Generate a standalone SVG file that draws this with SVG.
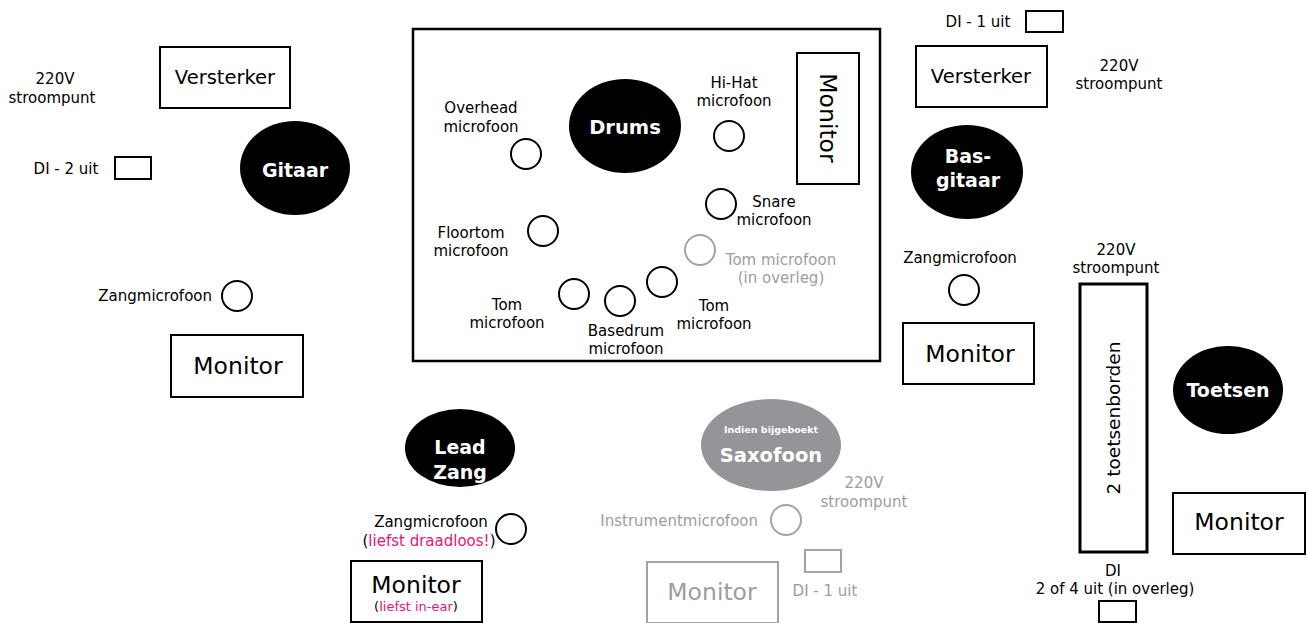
<svg xmlns="http://www.w3.org/2000/svg" width="1308" height="623" viewBox="0 0 1308 623">
<style>
text{font-family:"DejaVu Sans","Verdana",sans-serif;fill:#000}
.s{font-size:15px;text-anchor:middle}
.e{font-size:15px;text-anchor:end}
.big{font-size:23.5px;text-anchor:middle}
.amp{font-size:19.5px;text-anchor:middle}
.b{font-size:19px;font-weight:bold;fill:#fff;text-anchor:middle}
.box{fill:#fff;stroke:#000;stroke-width:2}
.mic{fill:#fff;stroke:#000;stroke-width:2}
.gmic{fill:#fff;stroke:#a3a3a3;stroke-width:2}
.gbox{fill:#fff;stroke:#a3a3a3;stroke-width:2}
.g{fill:#9d9d9d}
.p{fill:#e5157c}
.player{fill:#000}
</style>
<g id="connectors"></g>

<g id="drumkit">
<rect x="413" y="29" width="467" height="332" fill="#fff" stroke="#000" stroke-width="2.5"/>
</g>

<g id="left-power"><text class="s" x="55" y="84">220V</text><text class="s" x="52" y="103">stroompunt</text></g>
<g id="left-amp"><rect class="box" x="160" y="47" width="130" height="61"/><text class="amp" x="225" y="84">Versterker</text></g>
<g id="gitaar"><ellipse class="player" cx="295" cy="168" rx="55" ry="47"/><text class="b" x="295" y="177">Gitaar</text></g>
<g id="left-di"><text class="s" x="66" y="174">DI - 2 uit</text><rect class="box" x="115" y="157" width="36" height="22"/></g>
<g id="left-zangmic"><text class="e" x="212" y="301">Zangmicrofoon</text><circle class="mic" cx="237" cy="296" r="15"/></g>
<g id="left-monitor"><rect class="box" x="171" y="335" width="132" height="62"/><text class="big" x="238" y="374">Monitor</text></g>

<g id="drums"><ellipse class="player" cx="625" cy="126" rx="56" ry="47"/><text class="b" x="625" y="134" style="font-size:19.5px">Drums</text></g>
<g id="drum-monitor"><rect class="box" x="797" y="53" width="62" height="131"/><text class="big" transform="translate(820 118) rotate(90)">Monitor</text></g>
<g id="overhead"><text class="s" x="481" y="113">Overhead</text><text class="s" x="481" y="132">microfoon</text><circle class="mic" cx="526" cy="154" r="15"/></g>
<g id="hihat"><text class="s" x="734" y="88">Hi-Hat</text><text class="s" x="734" y="106">microfoon</text><circle class="mic" cx="729" cy="136" r="15"/></g>
<g id="snare"><circle class="mic" cx="721" cy="204" r="15"/><text class="s" x="774" y="207">Snare</text><text class="s" x="774" y="225">microfoon</text></g>
<g id="floortom"><circle class="mic" cx="543" cy="231" r="15"/><text class="s" x="471" y="238">Floortom</text><text class="s" x="471" y="256">microfoon</text></g>
<g id="tom-overleg"><circle class="gmic" cx="700" cy="250" r="15"/><text class="s g" x="781" y="265">Tom microfoon</text><text class="s g" x="781" y="283">(in overleg)</text></g>
<g id="tom-right"><circle class="mic" cx="662" cy="282" r="15"/><text class="s" x="714" y="311">Tom</text><text class="s" x="714" y="329">microfoon</text></g>
<g id="basedrum"><circle class="mic" cx="620" cy="301" r="15"/><text class="s" x="626" y="336">Basedrum</text><text class="s" x="626" y="354">microfoon</text></g>
<g id="tom-left"><circle class="mic" cx="574" cy="294" r="15"/><text class="s" x="507" y="310">Tom</text><text class="s" x="507" y="328">microfoon</text></g>

<g id="right-di"><text class="s" x="978" y="27">DI - 1 uit</text><rect class="box" x="1026" y="11" width="37" height="21"/></g>
<g id="right-amp"><rect class="box" x="916" y="46" width="131" height="61"/><text class="amp" x="981" y="83">Versterker</text></g>
<g id="right-power"><text class="s" x="1119" y="71">220V</text><text class="s" x="1119" y="89">stroompunt</text></g>
<g id="basgitaar"><ellipse class="player" cx="967" cy="172" rx="56" ry="47"/><text class="b" x="968" y="163">Bas-</text><text class="b" x="968" y="187">gitaar</text></g>
<g id="right-zangmic"><text class="s" x="960" y="263">Zangmicrofoon</text><circle class="mic" cx="964" cy="290" r="15"/></g>
<g id="right-monitor"><rect class="box" x="903" y="323" width="131" height="61"/><text class="big" x="970" y="362">Monitor</text></g>
<g id="keys-power"><text class="s" x="1116" y="255">220V</text><text class="s" x="1116" y="273">stroompunt</text></g>
<g id="toetsenborden"><rect x="1080" y="284" width="67" height="268" fill="#fff" stroke="#000" stroke-width="3"/><text transform="translate(1120 418) rotate(-90)" style="font-size:18.5px;text-anchor:middle">2 toetsenborden</text></g>
<g id="toetsen"><ellipse class="player" cx="1228" cy="390" rx="55" ry="44"/><text class="b" x="1228" y="397">Toetsen</text></g>
<g id="keys-monitor"><rect class="box" x="1173" y="493" width="132" height="61"/><text class="big" x="1239" y="530">Monitor</text></g>
<g id="keys-di"><text class="s" x="1113" y="576">DI</text><text class="s" x="1115" y="594">2 of 4 uit (in overleg)</text><rect class="box" x="1099" y="601" width="37" height="21"/></g>

<g id="leadzang"><ellipse class="player" cx="460" cy="448" rx="55" ry="39"/><text class="b" x="460" y="454">Lead</text><text class="b" x="460" y="479">Zang</text></g>
<g id="lead-mic"><text class="s" x="431" y="527">Zangmicrofoon</text><text class="s" x="429" y="546">(<tspan class="p">liefst draadloos!</tspan>)</text><circle class="mic" cx="511" cy="529" r="15"/></g>
<g id="lead-monitor"><rect class="box" x="351" y="561" width="131" height="61"/><text class="big" x="416" y="593">Monitor</text><text x="416" y="611" style="font-size:13px;text-anchor:middle">(<tspan class="p">liefst in-ear</tspan>)</text></g>

<g id="saxofoon"><ellipse cx="771" cy="445" rx="70" ry="46" fill="#939598"/><text class="b" x="771" y="433" style="font-size:9.5px">Indien bijgeboekt</text><text class="b" x="771" y="462" style="font-size:19.5px">Saxofoon</text></g>
<g id="sax-power"><text class="s g" x="864" y="488">220V</text><text class="s g" x="864" y="507">stroompunt</text></g>
<g id="sax-mic"><text class="e g" x="758" y="526">Instrumentmicrofoon</text><circle class="gmic" cx="786" cy="520" r="15"/></g>
<g id="sax-di"><rect class="gbox" x="805" y="550" width="36" height="22"/><text class="s g" x="825" y="596">DI - 1 uit</text></g>
<g id="sax-monitor"><rect class="gbox" x="647" y="562" width="131" height="61"/><text class="big g" x="712" y="600">Monitor</text></g>
</svg>
